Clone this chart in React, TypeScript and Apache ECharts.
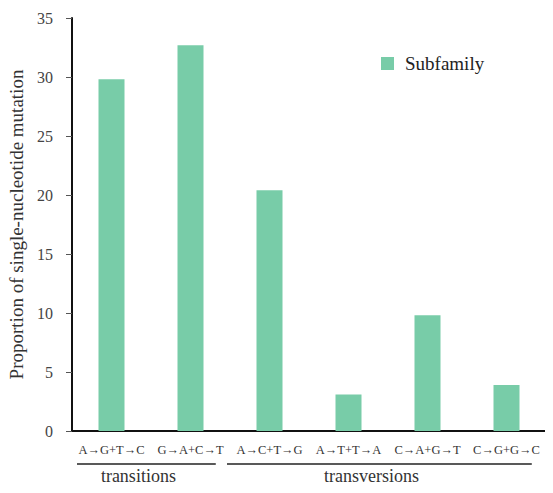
import React, { useEffect, useRef } from "react";
import * as echarts from "echarts";

const categories = ["A→G+T→C", "G→A+C→T", "A→C+T→G", "A→T+T→A", "C→A+G→T", "C→G+G→C"];
const subfamily = [29.8, 32.7, 20.4, 3.1, 9.8, 3.9];
const yTicks = { min: 0, max: 35, interval: 5 };
const seriesName = "Subfamily";
const yTitle = "Proportion of single-nucleotide mutation";
const groups = [
  { label: "transitions", from: 0, to: 1 },
  { label: "transversions", from: 2, to: 5 },
];

const FONT = "Liberation Serif";

export default function App() {
  const ref = useRef<HTMLDivElement>(null);
  useEffect(() => {
    if (!ref.current) return;
    const chart = echarts.init(ref.current, undefined, { renderer: "svg" });
    const gridLeft = 72;
    const gridRight = 7;
    const gridTop = 18;
    const gridBottom = 62;
    const W = 553;
    const H = 493;
    const plotW = W - gridLeft - gridRight;
    const cw = plotW / categories.length;
    const graphic: any[] = [];
    groups.forEach((g) => {
      const x1 = gridLeft + g.from * cw + (g.from === 0 ? 5 : -3);
      const x2 = gridLeft + (g.to + 0.82) * cw;
      const y = H - gridBottom + 33;
      graphic.push({
        type: "line",
        shape: { x1, y1: y, x2, y2: y },
        style: { stroke: "#222", lineWidth: 1.5 },
      });
      graphic.push({
        type: "text",
        x: (x1 + x2) / 2 - 8,
        y: y + 12,
        style: {
          text: g.label,
          fontFamily: FONT,
          fontSize: 18,
          fill: "#333",
          align: "center",
          verticalAlign: "middle",
        },
      });
    });
    chart.setOption({
      animation: false,
      backgroundColor: "#fff",
      grid: {
        left: gridLeft,
        right: gridRight,
        top: gridTop,
        bottom: gridBottom,
        containLabel: false,
        outerBoundsMode: "none",
      },
      legend: {
        data: [seriesName],
        left: 376,
        top: 49,
        icon: "rect",
        itemWidth: 13,
        itemHeight: 13,
        itemGap: 8,
        textStyle: { fontFamily: FONT, fontSize: 19, color: "#222", padding: [0, 0, 0, 6] },
      },
      xAxis: {
        type: "category",
        data: categories,
        boundaryGap: true,
        axisLine: { lineStyle: { color: "#111", width: 2 } },
        axisTick: { show: false },
        axisLabel: {
          interval: 0,
          fontFamily: FONT,
          fontSize: 12.5,
          color: "#333",
          margin: 12,
        },
      },
      yAxis: {
        type: "value",
        min: yTicks.min,
        max: yTicks.max,
        interval: yTicks.interval,
        name: yTitle,
        nameLocation: "middle",
        nameGap: 45,
        nameTextStyle: { fontFamily: FONT, fontSize: 19, color: "#333" },
        splitLine: { show: false },
        axisLine: { show: true, lineStyle: { color: "#111", width: 2 } },
        axisTick: { show: true, length: 6, lineStyle: { color: "#555" } },
        axisLabel: { fontFamily: FONT, fontSize: 16, color: "#444", margin: 19 },
      },
      series: [
        {
          name: seriesName,
          type: "bar",
          data: subfamily,
          barWidth: 26,
          itemStyle: { color: "#78cca8" },
        },
      ],
      graphic,
    });
    return () => chart.dispose();
  }, []);
  return <div ref={ref} style={{ width: 553, height: 493, marginLeft: -8, marginTop: -8 }} />;
}
